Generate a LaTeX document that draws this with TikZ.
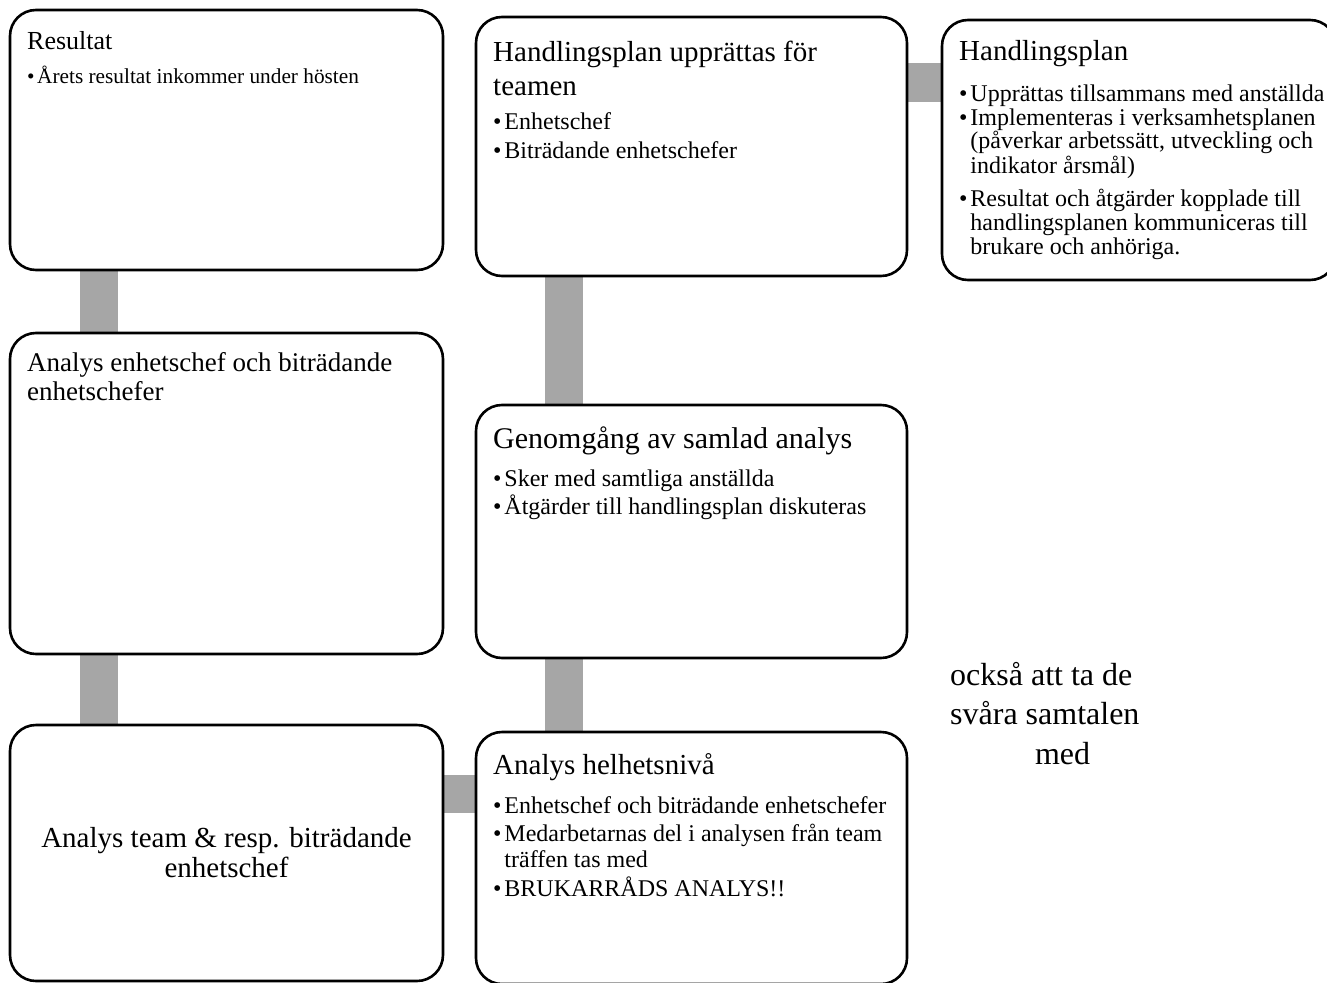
\documentclass[tikz,border=0pt]{standalone}
\usepackage{fontspec}
\setmainfont{Liberation Serif}
\usetikzlibrary{backgrounds}
\definecolor{bargray}{HTML}{A6A6A6}
\newcommand{\itm}{\par\noindent\hangindent=0.47em\hangafter=1\makebox[0.47em][l]{\textbullet}}
\lineskiplimit=-100pt

\begin{document}
\begin{tikzpicture}[x=1pt, y=-1pt,
  box/.style={draw, rounded corners=26pt, line width=2.6pt},
  txt/.style={anchor=base west, inner sep=0pt, text width=#1, align=left,
    execute at begin node={\spaceskip=0pt\xspaceskip=0pt}},
  bar/.style={draw=bargray, line width=38pt}
]
  \useasboundingbox (0,0) rectangle (1327,982);

  % steps
  \node[box, minimum width=433pt, minimum height=260pt] (res) at (226.5,140) {};
  \node[box, minimum width=433pt, minimum height=321pt] (anachef) at (226.5,493.5) {};
  \node[box, minimum width=433pt, minimum height=256pt] (anateam) at (226.5,853) {};
  \node[box, minimum width=431pt, minimum height=259pt] (planteam) at (691.5,146.5) {};
  \node[box, minimum width=431pt, minimum height=253pt] (genomg) at (691.5,531.5) {};
  \node[box, minimum width=431pt, minimum height=252pt] (helhet) at (691.5,858) {};
  \node[box, minimum width=394pt, minimum height=260pt] (plan) at (1139,150) {};

  % texts
  \node[txt=410pt] (restxt) at (27,50) {{\fontsize{26}{30}\selectfont Resultat\par}
    \vspace{8pt}\fontsize{21.3}{25}\selectfont
    \itm Årets resultat inkommer under hösten\par};
  \node[txt=410pt] (anacheftxt) at (27,371) {\fontsize{27}{29}\selectfont
    Analys enhetschef och biträdande\newline enhetschefer\par};
  \node[align=center, inner sep=0pt, font=\fontsize{29}{30}\selectfont] (anateamtxt) at (anateam.center)
    {Analys team \& resp. biträdande\\enhetschef};
  \node[txt=400pt] (planteamtxt) at (493,61) {{\fontsize{29}{35}\selectfont Handlingsplan upprättas för\newline teamen\par}
    \vspace{4pt}\fontsize{24}{29}\selectfont
    \itm Enhetschef
    \itm Biträdande enhetschefer\par};
  \node[txt=400pt] (genomgtxt) at (493,448) {{\fontsize{30}{32}\selectfont Genomgång av samlad analys\par}
    \vspace{10pt}\fontsize{24}{28}\selectfont
    \itm Sker med samtliga anställda
    \itm Åtgärder till handlingsplan diskuteras\par};
  \node[txt=400pt] (helhettxt) at (493,774) {{\fontsize{29}{32}\selectfont Analys helhetsnivå\par}
    \vspace{10.5pt}\fontsize{24}{26}\selectfont\setlength{\parskip}{2.5pt}
    \itm Enhetschef och biträdande enhetschefer
    \itm Medarbetarnas del i analysen från team\newline träffen tas med
    \itm BRUKARRÅDS ANALYS!!\par};
  \node[txt=380pt] (plantxt) at (959,60) {{\fontsize{29}{30}\selectfont Handlingsplan\par}
    \vspace{17pt}\fontsize{24}{24}\selectfont
    \itm Upprättas tillsammans med anställda
    \itm Implementeras i verksamhetsplanen\newline(påverkar arbetssätt, utveckling och\newline indikator årsmål)\par
    \vspace{9pt}
    \itm Resultat och åtgärder kopplade till\newline handlingsplanen kommuniceras till\newline brukare och anhöriga.\par};
  \node[txt=250pt] (note) at (950,685) {\fontsize{32}{39.5}\selectfont
    också att ta de\newline svåra samtalen\newline\hspace*{2.65em}med\par};

  % connectors
  \coordinate (lcol) at (98.5,0);
  \coordinate (mcol) at (563.5,0);
  \coordinate (trow) at (0,82.5);
  \coordinate (brow) at (0,793.5);
  \begin{scope}[on background layer]
    \draw[bar] (lcol |- res.south) -- (lcol |- anachef.north);
    \draw[bar] (lcol |- anachef.south) -- (lcol |- anateam.north);
    \draw[bar] (brow -| anateam.east) -- (brow -| helhet.west);
    \draw[bar] (mcol |- helhet.north) -- (mcol |- genomg.south);
    \draw[bar] (mcol |- genomg.north) -- (mcol |- planteam.south);
    \draw[bar] (trow -| planteam.east) -- (trow -| plan.west);
  \end{scope}
\end{tikzpicture}
\end{document}
